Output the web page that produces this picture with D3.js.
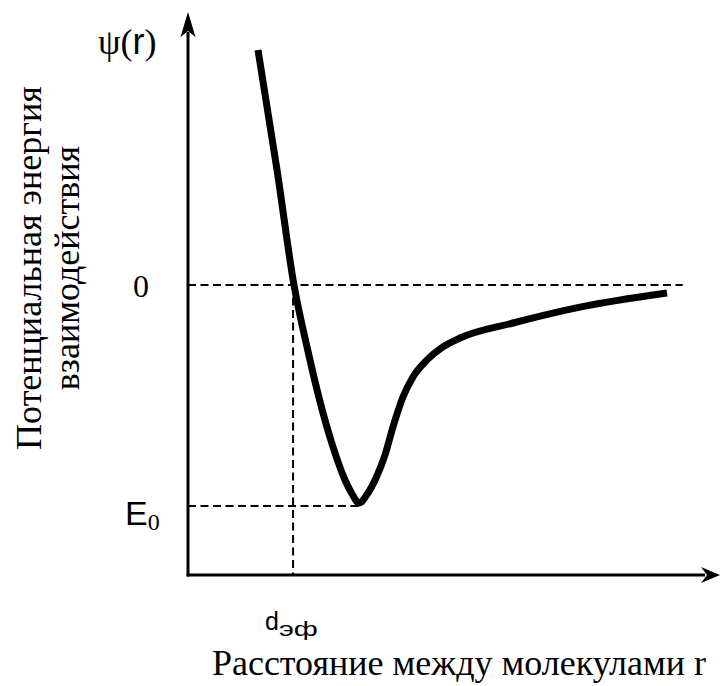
<!DOCTYPE html>
<html>
<head>
<meta charset="utf-8">
<script src="https://cdn.jsdelivr.net/npm/d3@7"></script>
<style>
    body { margin: 0; background: #fff; }
    svg { display: block; }
</style>
</head>
<body>
<svg id="chart" width="720" height="686"></svg>
<script>
// curve: distance r (arbitrary units) and potential energy psi (E0 = -1)
const rValues   = [1.316, 1.682, 1.992, 2.237, 2.538, 2.726, 2.951, 3.064, 3.214, 3.383, 3.534, 3.703, 3.853, 4.041, 4.229, 4.492, 4.793, 5.113, 6.109, 7.368, 9.004];
const psiValues = [1.063, 0.507, 0.000, -0.280, -0.579, -0.733, -0.882, -0.936, -0.986, -0.941, -0.873, -0.769, -0.642, -0.507, -0.416, -0.339, -0.280, -0.240, -0.172, -0.100, -0.036];

const xDomain = [0, 10];
const yDomain = [-1.312, 1.235];
const zeroLevel = 0;
const e0Level = -1;
const dEff = 1.975;
const zeroEnd = 9.3;

const yLabelLines = ["Потенциальная энергия", "взаимодействия"];
const xLabel = "Расстояние между молекулами r";

const svg = d3.select("#chart");
const x = d3.scaleLinear().domain(xDomain).range([188, 720]);
const y = d3.scaleLinear().domain(yDomain).range([575, 12]);

const data = rValues.map(function (r, i) { return { r: r, psi: psiValues[i] }; });

// dashed guides
const dash = "8,4.5";
svg.append("line")
    .attr("x1", x(0)).attr("x2", x(zeroEnd))
    .attr("y1", y(zeroLevel)).attr("y2", y(zeroLevel))
    .attr("stroke", "#000").attr("stroke-width", 2).attr("stroke-dasharray", dash);
svg.append("line")
    .attr("x1", x(0)).attr("x2", x(rValues[psiValues.indexOf(d3.min(psiValues))]))
    .attr("y1", y(e0Level)).attr("y2", y(e0Level))
    .attr("stroke", "#000").attr("stroke-width", 2).attr("stroke-dasharray", dash);
svg.append("line")
    .attr("x1", x(dEff)).attr("x2", x(dEff))
    .attr("y1", y(zeroLevel)).attr("y2", y(yDomain[0]))
    .attr("stroke", "#000").attr("stroke-width", 2).attr("stroke-dasharray", dash);

// axes with arrow heads
const x0 = x(xDomain[0]), y0 = y(yDomain[0]);
const xTip = x(xDomain[1]), yTip = y(yDomain[1]);
svg.append("line")
    .attr("x1", x0).attr("y1", y0 + 1.5).attr("x2", x0).attr("y2", yTip + 20)
    .attr("stroke", "#000").attr("stroke-width", 3);
svg.append("line")
    .attr("x1", x0 - 1.5).attr("y1", y0).attr("x2", xTip - 15).attr("y2", y0)
    .attr("stroke", "#000").attr("stroke-width", 3);
svg.append("path")
    .attr("d", `M${x0},${yTip} L${x0 + 7.5},${yTip + 25} L${x0},${yTip + 19} L${x0 - 7.5},${yTip + 25} Z`)
    .attr("fill", "#000");
svg.append("path")
    .attr("d", `M${xTip},${y0} L${xTip - 19},${y0 - 8} L${xTip - 13},${y0} L${xTip - 19},${y0 + 8} Z`)
    .attr("fill", "#000");

// potential curve
const line = d3.line()
    .x(function (d) { return x(d.r); })
    .y(function (d) { return y(d.psi); })
    .curve(d3.curveMonotoneX);
svg.append("path")
    .datum(data)
    .attr("d", line)
    .attr("fill", "none")
    .attr("stroke", "#000")
    .attr("stroke-width", 7)
    .attr("stroke-linecap", "butt")
    .attr("stroke-linejoin", "round");

// labels
const serif = "'Liberation Serif', 'Times New Roman', serif";
const sans = "'Liberation Sans', Arial, sans-serif";

const psiLabel = svg.append("text")
    .attr("x", 98).attr("y", 54)
    .attr("font-family", serif).attr("font-size", 36);
psiLabel.append("tspan").text("ψ(");
psiLabel.append("tspan").attr("font-family", sans).text("r");
psiLabel.append("tspan").text(")");

svg.append("text")
    .attr("x", 141).attr("y", y(zeroLevel) + 12)
    .attr("text-anchor", "middle")
    .attr("font-family", serif).attr("font-size", 32)
    .text("0");

const e0 = svg.append("text")
    .attr("x", 125).attr("y", y(e0Level) + 19)
    .attr("font-family", sans).attr("font-size", 34);
e0.append("tspan").text("E");
e0.append("tspan").attr("font-family", serif).attr("font-size", 24).attr("dy", 5).text("0");

const dLabel = svg.append("text")
    .attr("x", 265).attr("y", 630)
    .attr("font-family", sans).attr("font-size", 25);
dLabel.append("tspan").text("d");
dLabel.append("tspan").attr("font-size", 20).attr("dy", 6)
    .attr("textLength", 39).attr("lengthAdjust", "spacingAndGlyphs")
    .text("эф");

svg.append("text")
    .attr("x", 459).attr("y", 675)
    .attr("text-anchor", "middle")
    .attr("font-family", serif).attr("font-size", 36)
    .text(xLabel);

svg.selectAll("text.ylab")
    .data(yLabelLines)
    .join("text")
    .attr("class", "ylab")
    .attr("transform", function (d, i) { return `translate(${41 + i * 38},268) rotate(-90)`; })
    .attr("text-anchor", "middle")
    .attr("font-family", serif).attr("font-size", 36)
    .text(function (d) { return d; });
</script>
</body>
</html>
